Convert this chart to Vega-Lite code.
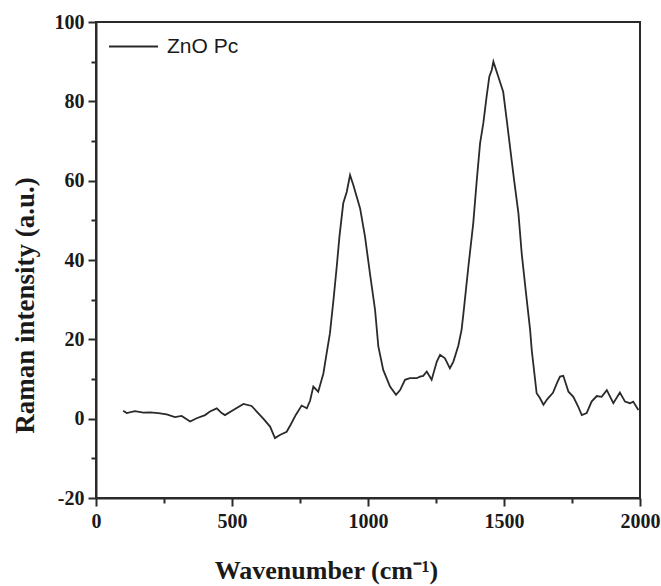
{
  "$schema": "https://vega.github.io/schema/vega-lite/v6.json",
  "width": 544,
  "height": 476,
  "autosize": {"type": "none"},
  "padding": {"left": 96, "top": 22, "right": 21, "bottom": 88},
  "background": "white",
  "config": {"view": {"stroke": "#2a2a2a", "strokeWidth": 2}},
  "data": {"values": [
    {"series": "ZnO Pc", "wavenumber": 100, "intensity": 2.0},
    {"series": "ZnO Pc", "wavenumber": 113, "intensity": 1.4},
    {"series": "ZnO Pc", "wavenumber": 143, "intensity": 1.9},
    {"series": "ZnO Pc", "wavenumber": 174, "intensity": 1.5},
    {"series": "ZnO Pc", "wavenumber": 199, "intensity": 1.6},
    {"series": "ZnO Pc", "wavenumber": 229, "intensity": 1.4},
    {"series": "ZnO Pc", "wavenumber": 260, "intensity": 1.1},
    {"series": "ZnO Pc", "wavenumber": 290, "intensity": 0.4},
    {"series": "ZnO Pc", "wavenumber": 315, "intensity": 0.7},
    {"series": "ZnO Pc", "wavenumber": 346, "intensity": -0.7},
    {"series": "ZnO Pc", "wavenumber": 370, "intensity": 0.1},
    {"series": "ZnO Pc", "wavenumber": 401, "intensity": 0.9},
    {"series": "ZnO Pc", "wavenumber": 419, "intensity": 1.8},
    {"series": "ZnO Pc", "wavenumber": 444, "intensity": 2.6},
    {"series": "ZnO Pc", "wavenumber": 462, "intensity": 1.4},
    {"series": "ZnO Pc", "wavenumber": 474, "intensity": 0.9},
    {"series": "ZnO Pc", "wavenumber": 505, "intensity": 2.2},
    {"series": "ZnO Pc", "wavenumber": 542, "intensity": 3.7},
    {"series": "ZnO Pc", "wavenumber": 572, "intensity": 3.2},
    {"series": "ZnO Pc", "wavenumber": 591, "intensity": 1.8},
    {"series": "ZnO Pc", "wavenumber": 615, "intensity": 0.0},
    {"series": "ZnO Pc", "wavenumber": 640, "intensity": -2.0},
    {"series": "ZnO Pc", "wavenumber": 658, "intensity": -4.9},
    {"series": "ZnO Pc", "wavenumber": 676, "intensity": -4.1},
    {"series": "ZnO Pc", "wavenumber": 701, "intensity": -3.3},
    {"series": "ZnO Pc", "wavenumber": 715, "intensity": -1.6},
    {"series": "ZnO Pc", "wavenumber": 735, "intensity": 1.0},
    {"series": "ZnO Pc", "wavenumber": 756, "intensity": 3.3},
    {"series": "ZnO Pc", "wavenumber": 775, "intensity": 2.6},
    {"series": "ZnO Pc", "wavenumber": 787, "intensity": 4.5},
    {"series": "ZnO Pc", "wavenumber": 799, "intensity": 8.1},
    {"series": "ZnO Pc", "wavenumber": 817, "intensity": 6.8},
    {"series": "ZnO Pc", "wavenumber": 836, "intensity": 11.4},
    {"series": "ZnO Pc", "wavenumber": 848, "intensity": 16.5},
    {"series": "ZnO Pc", "wavenumber": 860, "intensity": 21.5},
    {"series": "ZnO Pc", "wavenumber": 873, "intensity": 29.9},
    {"series": "ZnO Pc", "wavenumber": 885, "intensity": 38.3},
    {"series": "ZnO Pc", "wavenumber": 895, "intensity": 45.9},
    {"series": "ZnO Pc", "wavenumber": 909, "intensity": 54.3},
    {"series": "ZnO Pc", "wavenumber": 922, "intensity": 57.2},
    {"series": "ZnO Pc", "wavenumber": 934, "intensity": 61.4},
    {"series": "ZnO Pc", "wavenumber": 946, "intensity": 58.9},
    {"series": "ZnO Pc", "wavenumber": 971, "intensity": 53.0},
    {"series": "ZnO Pc", "wavenumber": 989, "intensity": 45.9},
    {"series": "ZnO Pc", "wavenumber": 1007, "intensity": 36.7},
    {"series": "ZnO Pc", "wavenumber": 1026, "intensity": 27.4},
    {"series": "ZnO Pc", "wavenumber": 1038, "intensity": 18.2},
    {"series": "ZnO Pc", "wavenumber": 1056, "intensity": 12.3},
    {"series": "ZnO Pc", "wavenumber": 1081, "intensity": 8.1},
    {"series": "ZnO Pc", "wavenumber": 1103, "intensity": 6.0},
    {"series": "ZnO Pc", "wavenumber": 1118, "intensity": 7.2},
    {"series": "ZnO Pc", "wavenumber": 1136, "intensity": 9.8},
    {"series": "ZnO Pc", "wavenumber": 1154, "intensity": 10.2},
    {"series": "ZnO Pc", "wavenumber": 1179, "intensity": 10.2},
    {"series": "ZnO Pc", "wavenumber": 1191, "intensity": 10.6},
    {"series": "ZnO Pc", "wavenumber": 1203, "intensity": 10.8},
    {"series": "ZnO Pc", "wavenumber": 1216, "intensity": 11.9},
    {"series": "ZnO Pc", "wavenumber": 1234, "intensity": 9.8},
    {"series": "ZnO Pc", "wavenumber": 1253, "intensity": 14.4},
    {"series": "ZnO Pc", "wavenumber": 1265, "intensity": 16.1},
    {"series": "ZnO Pc", "wavenumber": 1283, "intensity": 15.2},
    {"series": "ZnO Pc", "wavenumber": 1301, "intensity": 12.7},
    {"series": "ZnO Pc", "wavenumber": 1314, "intensity": 14.4},
    {"series": "ZnO Pc", "wavenumber": 1332, "intensity": 18.4},
    {"series": "ZnO Pc", "wavenumber": 1344, "intensity": 22.4},
    {"series": "ZnO Pc", "wavenumber": 1351, "intensity": 26.6},
    {"series": "ZnO Pc", "wavenumber": 1369, "intensity": 38.3},
    {"series": "ZnO Pc", "wavenumber": 1387, "intensity": 49.3},
    {"series": "ZnO Pc", "wavenumber": 1400, "intensity": 60.2},
    {"series": "ZnO Pc", "wavenumber": 1412, "intensity": 69.4},
    {"series": "ZnO Pc", "wavenumber": 1424, "intensity": 74.5},
    {"series": "ZnO Pc", "wavenumber": 1436, "intensity": 81.2},
    {"series": "ZnO Pc", "wavenumber": 1446, "intensity": 86.2},
    {"series": "ZnO Pc", "wavenumber": 1455, "intensity": 87.9},
    {"series": "ZnO Pc", "wavenumber": 1461, "intensity": 90.0},
    {"series": "ZnO Pc", "wavenumber": 1471, "intensity": 87.9},
    {"series": "ZnO Pc", "wavenumber": 1483, "intensity": 85.4},
    {"series": "ZnO Pc", "wavenumber": 1497, "intensity": 82.4},
    {"series": "ZnO Pc", "wavenumber": 1510, "intensity": 75.3},
    {"series": "ZnO Pc", "wavenumber": 1522, "intensity": 68.6},
    {"series": "ZnO Pc", "wavenumber": 1537, "intensity": 60.2},
    {"series": "ZnO Pc", "wavenumber": 1553, "intensity": 51.8},
    {"series": "ZnO Pc", "wavenumber": 1565, "intensity": 41.7},
    {"series": "ZnO Pc", "wavenumber": 1581, "intensity": 31.6},
    {"series": "ZnO Pc", "wavenumber": 1596, "intensity": 22.4},
    {"series": "ZnO Pc", "wavenumber": 1602, "intensity": 17.3},
    {"series": "ZnO Pc", "wavenumber": 1620, "intensity": 6.4},
    {"series": "ZnO Pc", "wavenumber": 1632, "intensity": 5.2},
    {"series": "ZnO Pc", "wavenumber": 1645, "intensity": 3.5},
    {"series": "ZnO Pc", "wavenumber": 1660, "intensity": 5.0},
    {"series": "ZnO Pc", "wavenumber": 1680, "intensity": 6.5},
    {"series": "ZnO Pc", "wavenumber": 1695, "intensity": 9.0},
    {"series": "ZnO Pc", "wavenumber": 1706, "intensity": 10.6},
    {"series": "ZnO Pc", "wavenumber": 1718, "intensity": 10.8},
    {"series": "ZnO Pc", "wavenumber": 1737, "intensity": 6.8},
    {"series": "ZnO Pc", "wavenumber": 1755, "intensity": 5.5},
    {"series": "ZnO Pc", "wavenumber": 1773, "intensity": 3.0},
    {"series": "ZnO Pc", "wavenumber": 1786, "intensity": 0.9},
    {"series": "ZnO Pc", "wavenumber": 1804, "intensity": 1.4},
    {"series": "ZnO Pc", "wavenumber": 1822, "intensity": 4.3},
    {"series": "ZnO Pc", "wavenumber": 1841, "intensity": 5.7},
    {"series": "ZnO Pc", "wavenumber": 1859, "intensity": 5.5},
    {"series": "ZnO Pc", "wavenumber": 1878, "intensity": 7.2},
    {"series": "ZnO Pc", "wavenumber": 1902, "intensity": 3.9},
    {"series": "ZnO Pc", "wavenumber": 1926, "intensity": 6.6},
    {"series": "ZnO Pc", "wavenumber": 1945, "intensity": 4.3},
    {"series": "ZnO Pc", "wavenumber": 1963, "intensity": 3.9},
    {"series": "ZnO Pc", "wavenumber": 1975, "intensity": 4.3},
    {"series": "ZnO Pc", "wavenumber": 1994, "intensity": 2.2}
  ]},
  "mark": {"type": "line", "strokeWidth": 1.8},
  "encoding": {
    "x": {
      "field": "wavenumber",
      "type": "quantitative",
      "scale": {"domain": [0, 2000], "nice": false, "zero": false},
      "axis": {
        "values": [0, 250, 500, 750, 1000, 1250, 1500, 1750, 2000],
        "labelExpr": "datum.value % 500 === 0 ? '' + datum.value : ''",
        "tickSize": {"condition": {"test": "datum.value % 500 === 0", "value": 8}, "value": 5},
        "tickWidth": 2,
        "tickColor": "#2a2a2a",
        "domainColor": "#2a2a2a",
        "domainWidth": 2,
        "grid": false,
        "labelFont": "Liberation Serif",
        "labelFontSize": 20,
        "labelFontWeight": "bold",
        "labelColor": "#1a1a1a",
        "labelPadding": 5,
        "labelFlush": false,
        "labelOverlap": false,
        "title": "Wavenumber (cm⁻¹)",
        "titleFont": "Liberation Serif",
        "titleFontSize": 26,
        "titleFontWeight": "bold",
        "titleColor": "#1a1a1a",
        "titleX": 230,
        "titleY": 80,
        "titleAlign": "center",
        "titleBaseline": "alphabetic"
      }
    },
    "y": {
      "field": "intensity",
      "type": "quantitative",
      "scale": {"domain": [-20, 100], "nice": false, "zero": false},
      "axis": {
        "values": [-20, -10, 0, 10, 20, 30, 40, 50, 60, 70, 80, 90, 100],
        "labelExpr": "datum.value % 20 === 0 ? '' + datum.value : ''",
        "tickSize": {"condition": {"test": "datum.value % 20 === 0", "value": 8}, "value": 5},
        "tickWidth": 2,
        "tickColor": "#2a2a2a",
        "domainColor": "#2a2a2a",
        "domainWidth": 2,
        "grid": false,
        "labelFont": "Liberation Serif",
        "labelFontSize": 20,
        "labelFontWeight": "bold",
        "labelColor": "#1a1a1a",
        "labelPadding": 4,
        "labelFlush": false,
        "labelOverlap": false,
        "title": "Raman intensity (a.u.)",
        "titleFont": "Liberation Serif",
        "titleFontSize": 27,
        "titleFontWeight": "bold",
        "titleColor": "#1a1a1a",
        "titleX": -71,
        "titleY": 283,
        "titleAlign": "center",
        "titleBaseline": "middle",
        "titleAngle": -90
      }
    },
    "color": {
      "field": "series",
      "type": "nominal",
      "scale": {"range": ["#2a2a2a"]},
      "legend": {
        "title": null,
        "orient": "none",
        "legendX": 12,
        "legendY": -1,
        "symbolType": "stroke",
        "symbolSize": 2400,
        "symbolStrokeWidth": 1.8,
        "labelFont": "Liberation Sans",
        "labelFontSize": 21,
        "labelColor": "#1a1a1a",
        "labelOffset": 8,
        "padding": 0
      }
    }
  }
}
